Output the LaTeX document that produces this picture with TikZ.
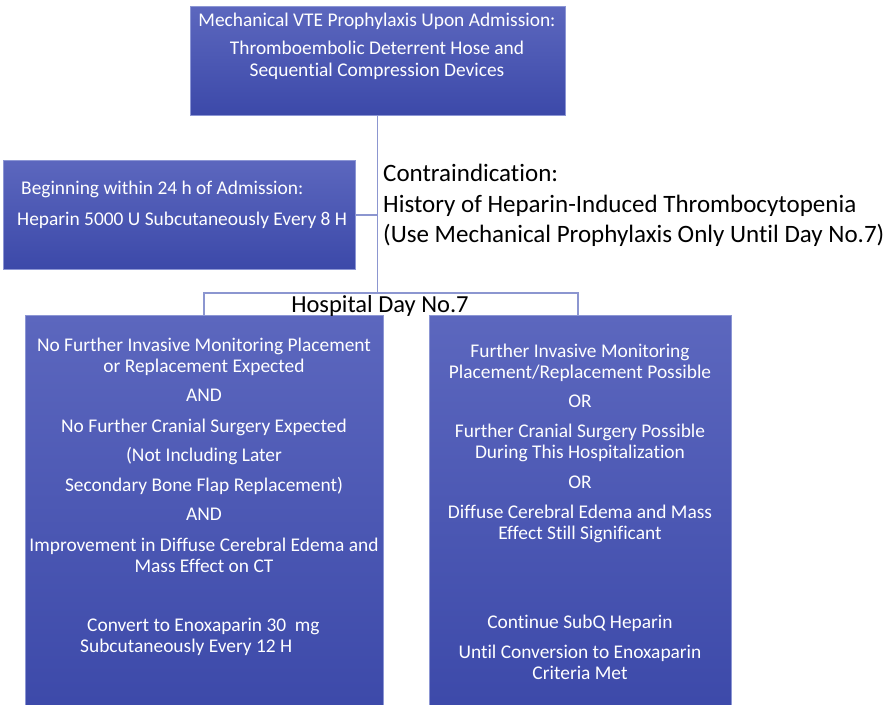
\documentclass[tikz,border=0pt]{standalone}
\usepackage{fontspec}
\setmainfont{Carlito}[Ligatures={NoCommon}]
\definecolor{boxtop}{HTML}{5C67BE}
\definecolor{boxbot}{HTML}{3C49A9}
\definecolor{boxedge}{HTML}{8C96D4}
\definecolor{linkc}{HTML}{8C96D0}
\tikzset{
  x=1pt,y=-1pt,
  flowbox/.style={rectangle,draw=boxedge,line width=0.8pt,top color=boxtop,bottom color=boxbot,inner sep=0pt},
  boxtext/.style={text=white,font=\fontsize{19.4}{23}\selectfont,inner sep=0pt,anchor=base},
  boxtextl/.style={boxtext,anchor=base west},
  bigtext/.style={text=black,font=\fontsize{25}{30}\selectfont,inner sep=0pt,anchor=base west},
  link/.style={draw=linkc,line width=1.1pt}
}
\begin{document}
\begin{tikzpicture}
\useasboundingbox (0,0) rectangle (886,704);
% boxes
\node[flowbox,minimum width=375pt,minimum height=109pt] (top) at (377.5,60.5) {};
\node[flowbox,minimum width=352pt,minimum height=109pt] (hep) at (179,214.5) {};
\node[flowbox,minimum width=358pt,minimum height=400pt] (bl) at (204,515) {};
\node[flowbox,minimum width=302pt,minimum height=400pt] (br) at (580,515) {};
% connector coordinates
\coordinate (j1) at (377.5,215);
\coordinate (j2) at (377.5,293);
\coordinate (hl) at (204,293);
\coordinate (hr) at (578,293);
\draw[link] (top.south) -- (j1) -- (j2);
\draw[link] (hep.east |- j1) -- (j1);
\draw[link] (bl.north) -- (hl) -- (hr) -- (hr |- br.north);
% top box text
\node[boxtext] (t1) at (377,26) {Mechanical VTE Prophylaxis Upon Admission:};
\node[boxtext] (t2) at (377,54) {Thromboembolic Deterrent Hose and};
\node[boxtext] (t3) at (377,76) {Sequential Compression Devices};
% heparin box text
\node[boxtextl] (h1) at (21,194) {Beginning within 24 h of Admission:};
\node[boxtextl] (h2) at (17,225) {Heparin 5000 U Subcutaneously Every 8 H};
% contraindication
\node[bigtext] (c1) at (383,181) {Contraindication:};
\node[bigtext] (c2) at (383,212) {History of Heparin-Induced Thrombocytopenia};
\node[bigtext] (c3) at (383,242) {(Use Mechanical Prophylaxis Only Until Day No.7)};
\node[bigtext,anchor=base,font=\fontsize{24.5}{29}\selectfont] (day) at (380,312) {Hospital Day No.7};
% bottom left
\node[boxtext] (l1) at (204,351) {No Further Invasive Monitoring Placement};
\node[boxtext] (l2) at (204,372) {or Replacement Expected};
\node[boxtext] (l3) at (204,401) {AND};
\node[boxtext] (l4) at (204,432) {No Further Cranial Surgery Expected};
\node[boxtext] (l5) at (204,461) {(Not Including Later};
\node[boxtext] (l6) at (204,491) {Secondary Bone Flap Replacement)};
\node[boxtext] (l7) at (204,520) {AND};
\node[boxtext] (l8) at (204,551) {Improvement in Diffuse Cerebral Edema and};
\node[boxtext] (l9) at (204,572) {Mass Effect on CT};
\node[boxtextl] (l10) at (87,631) {Convert to Enoxaparin 30\ \ mg};
\node[boxtextl] (l11) at (80,652) {Subcutaneously Every 12 H};
% bottom right
\node[boxtext] (r1) at (580,357) {Further Invasive Monitoring};
\node[boxtext] (r2) at (580,378) {Placement/Replacement Possible};
\node[boxtext] (r3) at (580,407) {OR};
\node[boxtext] (r4) at (580,437) {Further Cranial Surgery Possible};
\node[boxtext] (r5) at (580,458) {During This Hospitalization};
\node[boxtext] (r6) at (580,488) {OR};
\node[boxtext] (r7) at (580,518) {Diffuse Cerebral Edema and Mass};
\node[boxtext] (r8) at (580,539) {Effect Still Significant};
\node[boxtext] (r9) at (580,628) {Continue SubQ Heparin};
\node[boxtext] (r10) at (580,658) {Until Conversion to Enoxaparin};
\node[boxtext] (r11) at (580,679) {Criteria Met};
\end{tikzpicture}
\end{document}
